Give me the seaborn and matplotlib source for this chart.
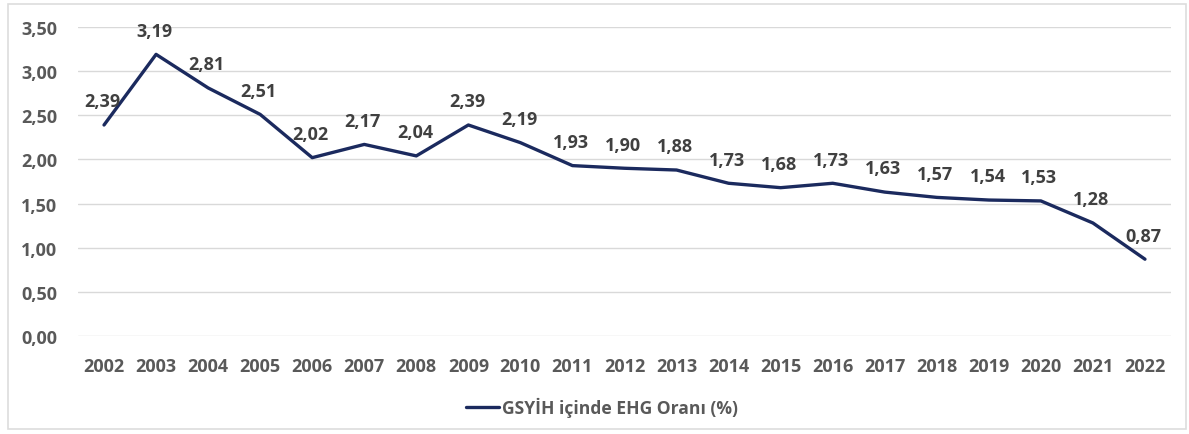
import matplotlib
matplotlib.use("Agg")
import matplotlib.pyplot as plt
import seaborn as sns
import pandas as pd
from matplotlib.patches import Rectangle

years = [str(y) for y in range(2002, 2023)]
values = [2.39, 3.19, 2.81, 2.51, 2.02, 2.17, 2.04, 2.39, 2.19, 1.93, 1.90,
          1.88, 1.73, 1.68, 1.73, 1.63, 1.57, 1.54, 1.53, 1.28, 0.87]
yticks = [0.0, 0.5, 1.0, 1.5, 2.0, 2.5, 3.0, 3.5]
series_name = "GSYİH içinde EHG Oranı (%)"

sns.set_theme(style="white")
plt.rcParams['font.family'] = ['Open Sans', 'DejaVu Sans']

df = pd.DataFrame({"Yıl": years, "Değer": values, "Seri": series_name})

W, H = 1189, 435
fig = plt.figure(figsize=(W / 100, H / 100), dpi=100)
ax = fig.add_axes([78 / W, 1 - 337 / H, (1171 - 78) / W, (337 - 28) / H])

line_color = "#1B2A5E"
sns.lineplot(data=df, x="Yıl", y="Değer", hue="Seri", palette=[line_color],
             linewidth=2.4, ax=ax, sort=False)

fs = 13
ax.set_xlim(-0.5, len(years) - 0.5)
ax.set_ylim(0, 3.5)
ax.set_yticks(yticks)
ax.set_yticklabels([f"{t:.2f}".replace(".", ",") for t in yticks])
ax.grid(axis="y", color="#D9D9D9", linewidth=1)
ax.set_axisbelow(True)
for s in ax.spines.values():
    s.set_visible(False)
ax.set_xlabel("")
ax.set_ylabel("")
ax.tick_params(axis="both", length=0, labelsize=fs, colors="#595959")
ax.tick_params(axis="y", pad=15)
ax.tick_params(axis="x", pad=15)
for lab in ax.get_xticklabels() + ax.get_yticklabels():
    lab.set_fontweight("bold")

for i, v in enumerate(values):
    ax.annotate(f"{v:.2f}".replace(".", ","), (i, v), xytext=(-1, 17),
                textcoords="offset points", ha="center", va="center",
                fontsize=fs, fontweight="bold", color="#404040")

leg = ax.legend(loc="center", bbox_to_anchor=((602 - 78) / (1171 - 78),
                                              (337 - 408) / (337 - 28)),
                frameon=False, fontsize=12.6, handlelength=1.9,
                handletextpad=0.2)
for t in leg.get_texts():
    t.set_color("#595959")
    t.set_fontweight("bold")

fig.patches.append(Rectangle((8 / W, 1 - 430 / H), (1186 - 8) / W, (430 - 5) / H,
                             transform=fig.transFigure, fill=False,
                             edgecolor="#DDDDDD", linewidth=1.2))

fig.savefig("out.png", dpi=100, facecolor="white")
